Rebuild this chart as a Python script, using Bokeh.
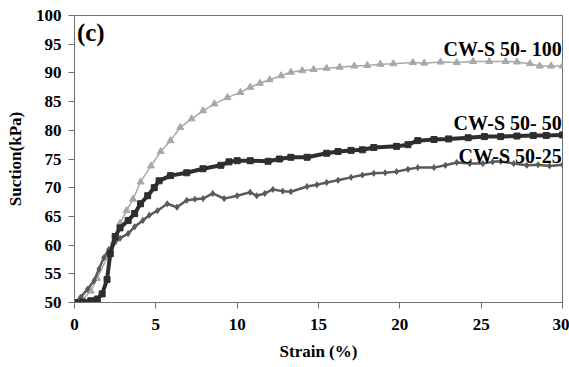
from bokeh.plotting import figure
from bokeh.embed import file_html
from bokeh.resources import INLINE
from bokeh.models import FixedTicker, Range1d
from bokeh.core.properties import value

# ---- data ----
x100 = [0, 0.5, 1.0, 1.4, 2.0, 2.4, 2.8, 3.2, 3.6, 4.06, 4.7, 5.3, 5.9, 6.5, 7.2, 7.9, 8.6, 9.4,
        10.2, 10.8, 11.4, 12.0, 12.7, 13.3, 14.0, 14.7, 15.5, 16.3, 17.2, 18.0, 18.8, 19.6,
        20.8, 21.5, 22.5, 23.5, 24.5, 25.5, 26.5, 27.2, 28.0, 28.6, 29.3, 30.0]
y100 = [50, 50.5, 52, 54.2, 57.8, 60.5, 63.8, 66, 68, 71, 73.8, 76.3, 78.2, 80.5, 82, 83.4, 84.6, 85.7,
        86.6, 87.5, 88.2, 88.8, 89.5, 90.1, 90.4, 90.6, 90.8, 91.0, 91.2, 91.3, 91.5, 91.6,
        91.8, 91.7, 91.9, 91.8, 92.0, 92.0, 92.0, 91.9, 91.6, 91.2, 91.2, 91.2]

x50 = [0, 0.5, 1.0, 1.4, 1.7, 2.0, 2.2, 2.5, 2.8, 3.3, 3.7, 4.06, 4.5, 4.9, 5.2, 5.9, 6.9, 7.9, 9.0,
       9.5, 10.0, 10.8, 11.9, 12.6, 13.3, 14.3, 15.5, 16.2, 17.0, 17.7, 18.4, 19.8, 20.5, 21.1,
       22.1, 23.0, 24.2, 25.2, 26.2, 27.2, 28.2, 29.0, 30.0]
y50 = [50, 50.1, 50.3, 50.6, 51.5, 54, 58.5, 61.5, 63, 64.3, 65.5, 67.2, 68.6, 70, 71.2, 72.1, 72.6, 73.3, 73.9,
       74.5, 74.7, 74.7, 74.6, 75.0, 75.3, 75.3, 76.0, 76.3, 76.5, 76.6, 77.0, 77.2, 77.5, 78.2,
       78.4, 78.5, 78.7, 78.9, 78.9, 79.0, 79.1, 79.1, 79.2]

x25 = [0, 0.37, 0.8, 1.2, 1.5, 1.8, 2.1, 2.4, 2.8, 3.3, 3.7, 4.2, 4.6, 5.1, 5.7, 6.3, 6.9, 7.4, 7.9,
       8.5, 9.2, 10.0, 10.8, 11.2, 11.7, 12.2, 12.8, 13.3, 14.3, 14.9, 15.5, 16.2, 17.0, 17.7,
       18.4, 19.1, 19.8, 20.5, 21.1, 22.1, 22.8, 23.5, 24.3, 25.1, 25.7, 26.2, 27.0, 27.8, 28.5,
       29.2, 30.0]
y25 = [50, 50.9, 52.3, 53.8, 55.8, 57.8, 59.2, 60.2, 61.2, 62, 63.2, 64.3, 65.2, 66, 67.2, 66.6, 67.8, 68.0, 68.1,
       69, 68.1, 68.6, 69.2, 68.6, 69.0, 69.7, 69.4, 69.3, 70.2, 70.5, 70.9, 71.3, 71.8, 72.2,
       72.5, 72.6, 72.8, 73.2, 73.5, 73.5, 73.9, 74.4, 74.2, 74.2, 74.5, 74.6, 74.2, 73.9, 74.0,
       73.8, 74.0]

series_labels = ["CW-S 50- 100", "CW-S 50- 50", "CW-S 50-25"]
label_y = [94.2, 81.3, 75.6]
x_ticks = [0, 5, 10, 15, 20, 25, 30]
y_ticks = [50, 55, 60, 65, 70, 75, 80, 85, 90, 95, 100]

FONT = "Liberation Serif"

p = figure(width=569, height=367, output_backend="svg", toolbar_location=None,
           x_range=Range1d(0, 30), y_range=Range1d(50, 100),
           min_border_left=74, min_border_right=7, min_border_top=15, min_border_bottom=65)
p.xgrid.visible = False
p.ygrid.visible = False
p.background_fill_color = "white"
p.border_fill_color = "white"
p.outline_line_color = "#707070"
p.outline_line_width = 1

for ax in (p.xaxis[0], p.yaxis[0]):
    ax.axis_line_color = "#707070"
    ax.major_tick_line_color = "#707070"
    ax.major_tick_in = 0
    ax.major_tick_out = 6
    ax.minor_tick_line_color = None
    ax.major_label_text_font = FONT
    ax.major_label_text_font_style = "bold"
    ax.major_label_text_font_size = "17px"
    ax.major_label_text_color = "black"
    ax.axis_label_text_font = FONT
    ax.axis_label_text_font_style = "bold"
    ax.axis_label_text_font_size = "17px"
    ax.axis_label_text_color = "black"

p.xaxis.ticker = FixedTicker(ticks=x_ticks)
p.yaxis.ticker = FixedTicker(ticks=y_ticks)
p.xaxis.axis_label = "Strain (%)"
p.yaxis.axis_label = "Suction(kPa)"
p.xaxis.major_label_standoff = 10
p.yaxis.major_label_standoff = 7
p.xaxis.axis_label_standoff = 9
p.yaxis.axis_label_standoff = 8

c100, c50, c25 = "#a8a8a8", "#2e2e2e", "#5a5a5a"

p.line(x100, y100, line_color=c100, line_width=1.5)
p.scatter(x100, y100, marker="triangle", size=7, fill_color=c100, line_color=c100)

p.line(x25, y25, line_color=c25, line_width=2.5)
p.scatter(x25, y25, marker="diamond", size=6, fill_color=c25, line_color=c25)

p.line(x50, y50, line_color=c50, line_width=4)
p.scatter(x50, y50, marker="square", size=6, fill_color=c50, line_color=c50)

p.text(x=[29.95] * 3, y=label_y, text=series_labels, text_align="right", text_baseline="middle",
       text_font=value(FONT), text_font_style="bold", text_font_size="20px", text_color="black")

p.text(x=[0.15], y=[97.0], text=["(c)"], text_align="left", text_baseline="middle",
       text_font=value(FONT), text_font_style="bold", text_font_size="25px", text_color="black")

open("out.html", "w").write(file_html(p, INLINE))
